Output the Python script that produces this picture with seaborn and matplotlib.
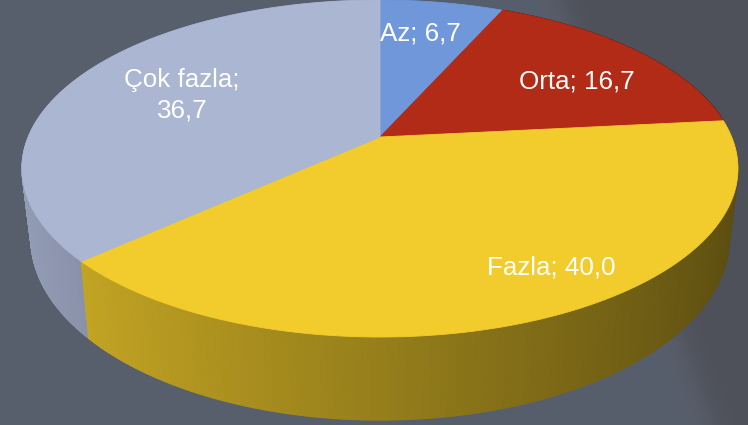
import numpy as np
import matplotlib
matplotlib.use("Agg")
import matplotlib.pyplot as plt
import seaborn as sns
from matplotlib.collections import PolyCollection

# ---- data ----
categories = ["Az", "Orta", "Fazla", "Çok fazla"]
values = [6.7, 16.7, 40.0, 36.7]
slice_colors = ["#7097d9", "#b22b16", "#f2cc2c", "#abb6d3"]
line_break = [False, False, False, True]

sns.set_theme(style="white")
plt.rcParams['font.family'] = ['Liberation Sans', 'DejaVu Sans']
palette = sns.color_palette(slice_colors)

W, H = 748, 425
fig = plt.figure(figsize=(W / 100, H / 100), dpi=100)
ax = fig.add_axes([0, 0, 1, 1])

# ---- background ----
yy, xx = np.mgrid[0:H, 0:W]
boundary = 560 + (712 - 560) * yy / H
tt = 1 / (1 + np.exp(-(xx - boundary) / 8))
c1 = np.array([88, 95, 108]) / 255
c2 = np.array([79, 81, 90]) / 255
bg = c1 * (1 - tt[..., None]) + c2 * tt[..., None]
ax.imshow(bg, extent=(0, W, H, 0), zorder=0, aspect='auto')

# ---- perspective projection of the pie disc ----
CX, CY = 380.0, 137.0
A, K = 351.7, 0.187
THICK, SHRINK = 67.5, 0.975


def proj_top(u, v):
    d = 1 + K * v
    return CX + A * u / d, CY * (1 - v) / d


def proj_bot(u, v):
    x, y = proj_top(u, v)
    return CX + SHRINK * (x - CX), y + THICK / (1 + K * v)


total = sum(values)
starts, ends = [], []
a = 90.0
for v in values:
    starts.append(a)
    a -= 360.0 * v / total
    ends.append(a)

# ---- side walls (strips sorted back to front) ----
strips = []
for i, col in enumerate(palette):
    angs = np.radians(np.linspace(starts[i], ends[i], int(abs(starts[i] - ends[i]) * 3) + 2))
    for a0, a1 in zip(angs[:-1], angs[1:]):
        u0, v0 = np.cos(a0), np.sin(a0)
        u1, v1 = np.cos(a1), np.sin(a1)
        tx0, ty0 = proj_top(u0, v0)
        tx1, ty1 = proj_top(u1, v1)
        bx0, by0 = proj_bot(u0, v0)
        bx1, by1 = proj_bot(u1, v1)
        am = 0.5 * (a0 + a1)
        f = 0.62 - 0.25 * np.cos(am)
        c = tuple(np.clip(np.array(col) * f, 0, 1))
        strips.append((np.sin(am), [(tx0, ty0), (tx1, ty1), (bx1, by1), (bx0, by0)], c))
strips.sort(key=lambda s: -s[0])
pc = PolyCollection([s[1] for s in strips], facecolors=[s[2] for s in strips],
                    edgecolors=[s[2] for s in strips], linewidths=0.8, zorder=2)
ax.add_collection(pc)

# ---- top surface ----
for i, col in enumerate(palette):
    angs = np.radians(np.linspace(starts[i], ends[i], 200))
    xs, ys = proj_top(np.cos(angs), np.sin(angs))
    px, py = proj_top(0.0, 0.0)
    xs = np.concatenate([[px], xs, [px]])
    ys = np.concatenate([[py], ys, [py]])
    ax.fill(xs, ys, color=col, ec=col, lw=0.6, zorder=3)

# ---- labels ----
label_pos = [(420.5, 40.7), (577, 88.0), (551, 274.3), (182, 87.3)]
for i, (cat, val) in enumerate(zip(categories, values)):
    num = f"{val:.1f}".replace(".", ",")
    text = f"{cat};\n{num}" if line_break[i] else f"{cat}; {num}"
    x, y = label_pos[i]
    for j, line in enumerate(text.split("\n")):
        ax.text(x, y + j * 30.5, line, color="white", fontsize=18.7,
                ha="center", va="baseline", zorder=5)

ax.set_xlim(0, W)
ax.set_ylim(H, 0)
ax.axis("off")
fig.savefig("out.png", dpi=100)
